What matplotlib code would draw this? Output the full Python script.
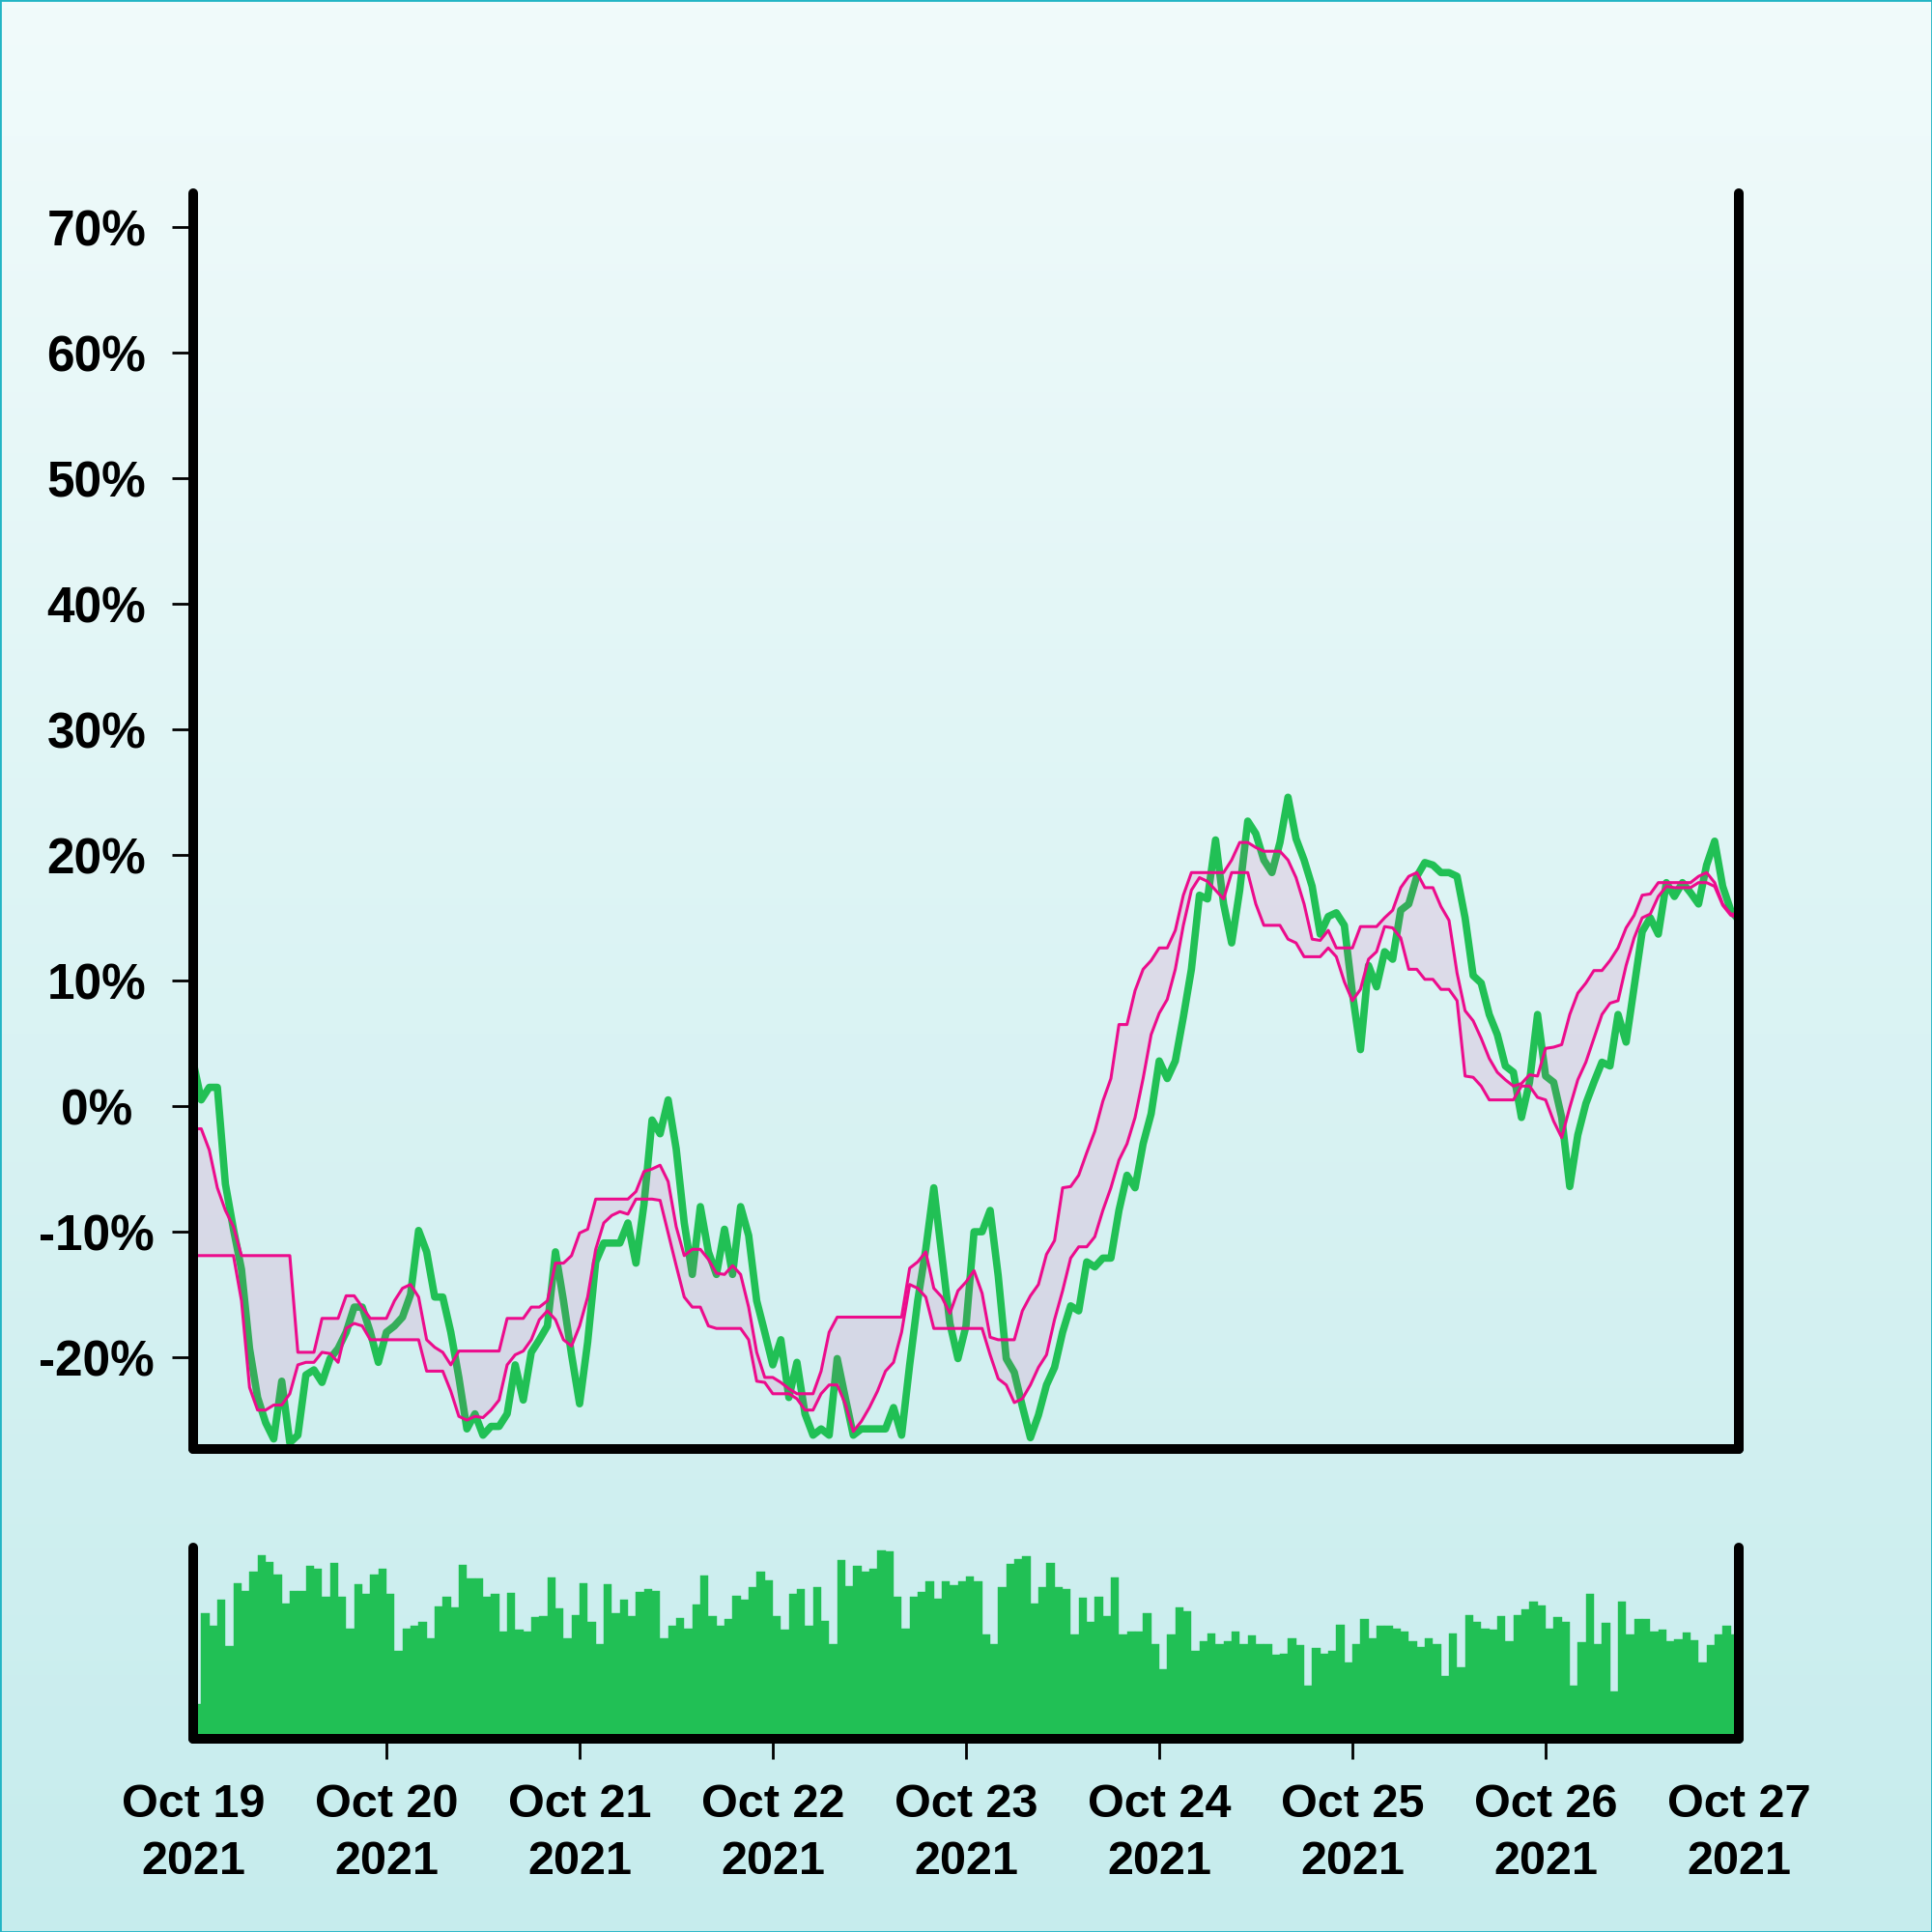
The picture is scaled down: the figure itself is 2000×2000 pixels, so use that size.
import matplotlib
matplotlib.use('Agg')
import matplotlib.pyplot as plt
from matplotlib.colors import LinearSegmentedColormap
from matplotlib.patches import Rectangle
from matplotlib.ticker import FuncFormatter
import numpy as np
import pandas as pd

plt.rcParams['font.family'] = ['Liberation Sans', 'DejaVu Sans']
plt.rcParams['font.weight'] = 'bold'

# hourly data starting Oct 19 2021 00:00, price change in %
start = '2021-10-19 00:00'
end = '2021-10-27 00:00'

price_pct = [
    3.5, 0.5, 1.5, 1.5, -6.2, -9.8, -13.0, -19.3, -23.2, -25.2, -26.5, -21.9,
    -26.8, -26.2, -21.4, -21.0, -22.0, -20.1, -19.3, -18.0, -16.0, -16.0, -18.0, -20.4,
    -18.0, -17.5, -16.8, -15.0, -9.9, -11.6, -15.2, -15.2, -18.0, -21.6, -25.7, -24.5,
    -26.2, -25.5, -25.5, -24.5, -20.6, -23.4, -19.6, -18.6, -17.5, -11.6, -15.5, -19.8,
    -23.7, -18.8, -12.4, -10.9, -10.9, -10.9, -9.3, -12.5, -7.8, -1.1, -2.2, 0.5,
    -3.4, -9.3, -13.4, -8.0, -11.6, -13.4, -9.8, -13.4, -8.0, -10.3, -15.5, -18.0,
    -20.6, -18.6, -23.2, -20.4, -24.5, -26.2, -25.7, -26.2, -20.1, -23.2, -26.2, -25.7,
    -25.7, -25.7, -25.7, -24.0, -26.2, -20.6, -15.5, -11.4, -6.5, -11.9, -17.3, -20.1,
    -17.5, -10.0, -10.0, -8.3, -13.5, -20.1, -21.2, -23.9, -26.4, -24.6, -22.2, -20.8,
    -18.0, -15.9, -16.3, -12.4, -12.8, -12.1, -12.1, -8.3, -5.5, -6.5, -3.0, -0.6,
    3.6, 2.2, 3.6, 7.1, 10.9, 16.8, 16.5, 21.2, 16.1, 13.0, 17.2, 22.7,
    21.7, 19.6, 18.6, 21.0, 24.6, 21.3, 19.6, 17.5, 13.7, 15.1, 15.4, 14.4,
    9.0, 4.5, 11.2, 9.5, 12.3, 11.7, 15.6, 16.1, 18.3, 19.4, 19.2, 18.6,
    18.6, 18.3, 15.0, 10.4, 9.8, 7.3, 5.7, 3.2, 2.7, -0.9, 1.9, 7.3,
    2.4, 1.9, -0.9, -6.4, -2.3, 0.2, 1.9, 3.5, 3.2, 7.3, 5.1, 9.5,
    13.9, 15.0, 13.7, 17.8, 16.7, 17.8, 17.0, 16.1, 19.2, 21.1, 17.5, 15.6,
    14.8,
]

span_upper = [
    -1.8, -1.8, -3.5, -6.5, -8.3, -9.6, -11.9, -11.9, -11.9, -11.9, -11.9, -11.9,
    -11.9, -19.6, -19.6, -19.6, -16.9, -16.9, -16.9, -15.1, -15.1, -16.0, -16.9, -16.9,
    -16.9, -15.5, -14.5, -14.2, -15.2, -18.6, -19.2, -19.6, -20.6, -19.5, -19.5, -19.5,
    -19.5, -19.5, -19.5, -16.9, -16.9, -16.9, -16.0, -16.0, -15.5, -12.5, -12.5, -11.9,
    -10.1, -9.8, -7.4, -7.4, -7.4, -7.4, -7.4, -6.8, -5.2, -5.0, -4.7, -6.0,
    -9.6, -11.9, -11.4, -11.4, -12.2, -13.3, -13.4, -12.7, -13.4, -16.0, -19.6, -21.6,
    -21.6, -22.0, -22.5, -22.9, -22.9, -22.9, -21.1, -18.0, -16.8, -16.8, -16.8, -16.8,
    -16.8, -16.8, -16.8, -16.8, -16.8, -12.9, -12.4, -11.6, -14.5, -15.2, -16.5, -14.7,
    -14.0, -13.1, -14.9, -18.4, -18.6, -18.6, -18.6, -16.3, -15.1, -14.2, -11.8, -10.7,
    -6.5, -6.4, -5.5, -3.7, -2.0, 0.4, 2.2, 6.5, 6.5, 9.2, 10.9, 11.6,
    12.6, 12.6, 14.0, 16.8, 18.6, 18.6, 18.6, 18.6, 18.6, 19.6, 21.0, 21.0,
    20.6, 20.3, 20.3, 20.3, 19.6, 18.2, 16.1, 13.3, 13.2, 14.0, 12.6, 12.6,
    12.6, 14.3, 14.3, 14.3, 15.0, 15.6, 17.4, 18.3, 18.6, 17.4, 17.4, 15.9,
    14.8, 10.6, 7.6, 6.8, 5.4, 3.8, 2.7, 2.1, 1.6, 1.8, 2.5, 2.4,
    4.6, 4.7, 4.9, 7.3, 9.0, 9.8, 10.8, 10.8, 11.6, 12.6, 14.2, 15.2,
    16.8, 16.9, 17.8, 17.8, 17.8, 17.8, 17.8, 18.3, 18.6, 17.8, 16.1, 15.3,
    15.3,
]

span_lower = [
    -11.9, -11.9, -11.9, -11.9, -11.9, -11.9, -15.5, -22.4, -24.2, -24.2, -23.8, -23.8,
    -22.9, -20.6, -20.4, -20.4, -19.6, -19.7, -20.4, -17.7, -17.3, -17.5, -18.6, -18.6,
    -18.6, -18.6, -18.6, -18.6, -18.6, -21.1, -21.1, -21.1, -22.7, -24.7, -25.0, -24.7,
    -24.8, -24.2, -23.4, -20.6, -19.8, -19.5, -18.6, -17.0, -16.3, -17.0, -18.6, -19.1,
    -17.5, -15.2, -11.4, -9.3, -8.7, -8.4, -8.6, -7.4, -7.4, -7.4, -7.5, -10.1,
    -12.7, -15.2, -16.0, -16.0, -17.5, -17.7, -17.7, -17.7, -17.7, -18.6, -21.9, -22.0,
    -22.9, -22.9, -22.9, -23.3, -24.2, -24.2, -22.9, -22.2, -22.2, -23.7, -25.9, -25.1,
    -24.0, -22.7, -21.1, -20.4, -18.0, -14.2, -14.5, -15.2, -17.7, -17.7, -17.7, -17.7,
    -17.7, -17.7, -17.7, -19.8, -21.7, -22.2, -23.6, -23.3, -22.2, -20.8, -19.8, -17.0,
    -14.7, -12.1, -11.2, -11.2, -10.4, -8.3, -6.5, -4.3, -3.0, -0.9, 2.2, 5.7,
    7.4, 8.5, 10.9, 14.4, 17.2, 18.2, 17.9, 17.2, 16.5, 18.6, 18.6, 18.6,
    16.1, 14.4, 14.4, 14.4, 13.3, 13.0, 11.9, 11.9, 11.9, 12.6, 11.9, 9.9,
    8.4, 9.3, 11.7, 12.3, 14.3, 14.2, 13.4, 10.9, 10.9, 10.1, 10.1, 9.3,
    9.3, 8.4, 2.4, 2.3, 1.6, 0.5, 0.5, 0.5, 0.5, 1.6, 1.6, 0.7,
    0.5, -1.2, -2.5, -0.1, 2.1, 3.5, 5.4, 7.3, 8.2, 8.4, 11.2, 13.4,
    15.0, 15.3, 16.7, 17.5, 17.4, 17.4, 17.4, 17.8, 17.8, 17.5, 16.0, 15.2,
    15.0,
]

volume = [
    110, 400, 360, 440, 295, 495, 470, 530, 583, 560, 520, 430,
    470, 470, 550, 540, 450, 558, 450, 350, 492, 460, 522, 540,
    460, 280, 350, 360, 370, 320, 420, 450, 417, 552, 510, 510,
    450, 460, 340, 464, 345, 340, 387, 390, 512, 415, 320, 391,
    493, 370, 300, 492, 398, 440, 390, 465, 475, 468, 320, 360,
    384, 350, 425, 518, 390, 360, 380, 455, 440, 480, 531, 504,
    390, 345, 460, 475, 360, 480, 375, 300, 567, 483, 549, 530,
    540, 597, 594, 450, 350, 450, 466, 501, 445, 501, 487, 500,
    516, 500, 330, 300, 480, 555, 570, 580, 430, 480, 558, 480,
    474, 330, 447, 370, 450, 390, 512, 330, 340, 340, 400, 300,
    220, 330, 417, 406, 280, 310, 334, 300, 310, 340, 300, 328,
    300, 300, 266, 270, 320, 296, 170, 288, 270, 278, 361, 242,
    300, 380, 320, 360, 360, 348, 340, 310, 290, 320, 300, 200,
    333, 228, 393, 370, 350, 345, 390, 310, 393, 410, 435, 423,
    350, 385, 372, 170, 306, 461, 300, 369, 150, 435, 330, 381,
    380, 340, 345, 310, 315, 336, 312, 243, 298, 330, 358, 330,
]

times = pd.date_range(start, periods=len(price_pct), freq='h')
vol_times = pd.date_range(start, periods=len(volume), freq='h')
days = pd.date_range(start, end, freq='D')

green = '#21c055'
pink = '#ec0c8c'

fig = plt.figure(figsize=(20, 20), dpi=100)

# background gradient + thin frame
bg = fig.add_axes([0, 0, 1, 1], zorder=-10)
grad = np.linspace(0, 1, 256).reshape(-1, 1)
cmap = LinearSegmentedColormap.from_list('bg', ['#f1fbfb', '#c6eced'])
bg.imshow(grad, aspect='auto', cmap=cmap, extent=[0, 1, 0, 1])
bg.set_axis_off()
fig.patches.append(Rectangle((0, 0), 1, 1, transform=fig.transFigure, fill=False,
                             edgecolor='#22b5c5', linewidth=2))

# price + cloud
ax = fig.add_axes([0.1, 0.25, 0.8, 0.65])
ax.patch.set_alpha(0)
ax.plot(times, price_pct, color=green, lw=5.5, zorder=2)
ax.fill_between(times, span_upper, span_lower, color=pink, alpha=0.1, lw=0, zorder=3)
ax.plot(times, span_upper, color=pink, lw=2.2, zorder=4)
ax.plot(times, span_lower, color=pink, lw=2.2, zorder=4)
ax.set_xlim(pd.Timestamp(start), pd.Timestamp(end))
ax.set_ylim(-27.3, 72.7)
ax.set_yticks(range(-20, 80, 10))
ax.yaxis.set_major_formatter(FuncFormatter(lambda v, p: f'{v:.0f}%'))
ax.tick_params(axis='y', length=16, width=2, pad=56, labelsize=37)
for lab in ax.get_yticklabels():
    lab.set_horizontalalignment('center')
ax.tick_params(axis='x', bottom=False, labelbottom=False)

# volume
axv = fig.add_axes([0.1, 0.1, 0.8, 0.099])
axv.patch.set_alpha(0)
axv.bar(vol_times, volume, width=1 / 24, align='edge', color=green,
        edgecolor=green, lw=0.3)
axv.set_xlim(pd.Timestamp(start), pd.Timestamp(end))
axv.set_ylim(0, 607)
axv.set_yticks([])
axv.xaxis.remove_overlapping_locs = False
axv.set_xticks(days)
axv.set_xticklabels([d.strftime('%b %d\n%Y') for d in days], linespacing=1.4)
axv.set_xticks(days[1:-1], minor=True)
axv.tick_params(axis='x', which='major', length=0, pad=33, labelsize=35)
axv.tick_params(axis='x', which='minor', length=15, width=2)

for a in (ax, axv):
    a.spines['top'].set_visible(False)
    for side in ['left', 'right', 'bottom']:
        a.spines[side].set_linewidth(7.2)
        a.spines[side].set_capstyle('round')
        a.spines[side].set_zorder(5)

fig.savefig('out.png', dpi=100)
